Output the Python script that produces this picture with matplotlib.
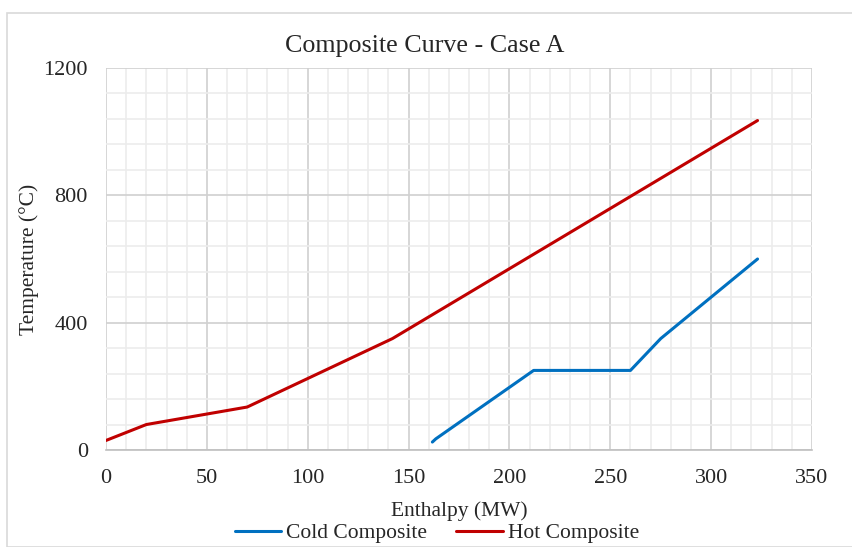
import matplotlib
matplotlib.use("Agg")
import matplotlib.pyplot as plt
from matplotlib.patches import Rectangle
from matplotlib.ticker import MultipleLocator

# Data
hot_h = [0, 20, 70, 142, 323]
hot_t = [30, 80, 135, 350, 1035]
cold_h = [161.8, 163.5, 212, 260, 275, 323]
cold_t = [25, 35, 250, 250, 350, 600]

xticks = [0, 50, 100, 150, 200, 250, 300, 350]
yticks = [0, 400, 800, 1200]

plt.rcParams['font.family'] = ['Liberation Serif', 'DejaVu Serif']

W, H = 853, 547
fig = plt.figure(figsize=(W / 100, H / 100), dpi=100)

# chart area border
fig.patches.append(Rectangle((7 / W, 0), 1.0, 1 - 13 / H, transform=fig.transFigure,
                             fill=False, edgecolor='#d9d9d9', linewidth=1.2))

ax = fig.add_axes([106 / W, (H - 450) / H, 706 / W, 382 / H])
ax.set_xlim(0, 350)
ax.set_ylim(0, 1200)
ax.set_xticks(xticks)
ax.set_yticks(yticks)
ax.xaxis.set_minor_locator(MultipleLocator(10))
ax.yaxis.set_minor_locator(MultipleLocator(80))
ax.grid(which='minor', color='#ececec', linewidth=1.2)
ax.grid(which='major', color='#d0d0d0', linewidth=1.2)
ax.set_axisbelow(True)
for s in ['top', 'right', 'left']:
    ax.spines[s].set_visible(False)
ax.spines['bottom'].set_color('#bfbfbf')
ax.spines['bottom'].set_linewidth(1.2)
ax.tick_params(which='both', length=0, labelsize=16, colors='#262626')
ax.tick_params(axis='x', pad=13.5)
ax.tick_params(axis='y', pad=13)

l1, = ax.plot(cold_h, cold_t, color='#0070C0', linewidth=2.2, solid_capstyle='round',
              solid_joinstyle='round', label='Cold Composite')
l2, = ax.plot(hot_h, hot_t, color='#C00000', linewidth=2.2, solid_capstyle='round',
              solid_joinstyle='round', label='Hot Composite')

ax.set_xlabel('Enthalpy (MW)', fontsize=15.5, color='#262626', labelpad=10)
ax.set_ylabel('Temperature (°C)', fontsize=15.5, color='#262626', labelpad=3)

fig.text(425 / W, 1 - 46 / H, 'Composite Curve - Case A', ha='center', va='center',
         fontsize=18.7, color='#262626')

fig.legend(handles=[l1, l2], loc='center', bbox_to_anchor=(437 / W, 1 - 533 / H),
           ncol=2, frameon=False, fontsize=15.5, handlelength=2.15, handletextpad=0.25,
           columnspacing=1.35, labelcolor='#262626')

fig.savefig('out.png', dpi=100)
